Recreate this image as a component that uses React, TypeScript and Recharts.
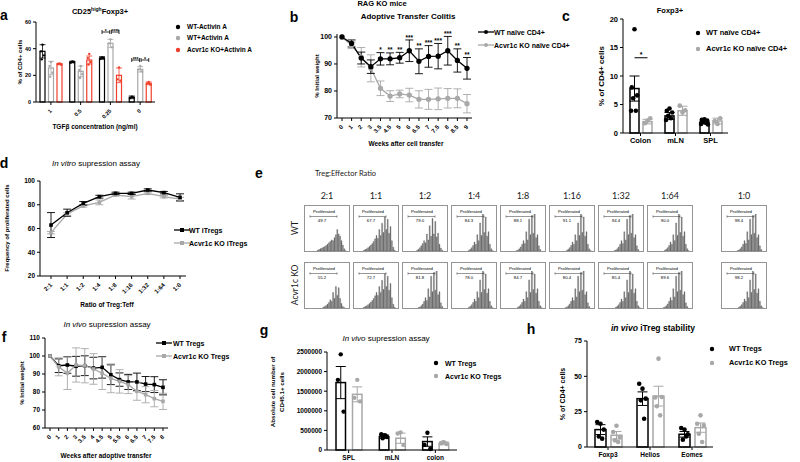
import React from "react";
import { BarChart, Bar, LineChart, Line, XAxis, YAxis, ErrorBar, LabelList } from "recharts";

const FONT = '"Liberation Sans", Arial, sans-serif';
const EFONT = 'Lato, "Open Sans", sans-serif';
const GRAY = "#a8a8a8";
const RED = "#f0402c";

// ---- a: CD25highFoxp3+
const aCats = ["1", "0.5", "0.25", "0"];
const aWtMinus = [38, 30, 33, 3.5];
const aWtMinusErr = [5, 0.6, 1, 1];
const aWtMinusDots = [[43, 38, 35, 32], [30.5, 29.5, 30], [33.5, 32.5, 33], [4, 3, 3.5]];
const aWtPlus = [25.5, 23, 44, 24.5];
const aWtPlusErr = [5, 4, 3, 2];
const aWtPlusDots = [[30, 27, 22, 19], [27, 24, 21, 18], [47, 44, 41], [27, 24.5, 23]];
const aKo = [28.5, 31.5, 20, 14];
const aKoErr = [0.5, 3, 5.5, 1];
const aKoDots = [[29, 28.5, 28], [36, 33, 30, 28], [26, 17, 16], [15, 14, 13]];
const aSig = [
  { cat: "0.25", y: 52.5, left: "*", right: "****" },
  { cat: "0", y: 31.5, left: "***", right: "*" },
];

// ---- b: adoptive transfer colitis
const bWeeks = ["0", "1", "2", "3", "3.5", "4.5", "5", "6", "6.5", "7", "7.5", "8", "8.5", "9"];
const bWt = [100, 97.6, 92.2, 89, 91.9, 91.9, 92.3, 94.9, 91, 92.8, 92.9, 94.9, 91.3, 88.4];
const bWtErr = [0, 1.3, 2.2, 2.5, 2.3, 2.2, 2, 4, 4.6, 4, 4.7, 5.3, 4.3, 4];
const bKo = [100, 96.9, 92.5, 88.4, 81, 78.1, 78.9, 78.5, 76.9, 76.9, 77.1, 77.3, 77.3, 75.3];
const bKoErr = [0, 1.2, 3.6, 5, 2.7, 2, 1.4, 2.5, 3.2, 3.7, 4, 3.6, 3.5, 3.4];
const bStars = ["", "", "", "", "*", "**", "**", "***", "**", "***", "***", "***", "**", "**"];

// ---- c: Foxp3+
const cCats = ["Colon", "mLN", "SPL"];
const cWt = [7.8, 3.0, 1.8];
const cWtErr = [2.2, 0.6, 0.2];
const cWtDots = [[18.2, 8.0, 6.6, 6.1, 3.9, 3.9], [4.3, 3.9, 3.6, 3.0, 2.6, 2.3], [2.4, 2.3, 2.2, 2.0, 1.8, 1.6, 1.5]];
const cKo = [2.0, 3.9, 2.1];
const cKoErr = [0.4, 0.8, 0.5];
const cKoDots = [[2.2, 1.7, 2.6], [3.6, 4.8, 4.0], [1.6, 2.1, 2.6]];

// ---- d: in vitro suppression
const dRatios = ["2:1", "1:1", "1:2", "1:4", "1:8", "1:16", "1:32", "1:64", "1:0"];
const dWt = [62.9, 73.3, 81.2, 86.8, 89.6, 89.6, 92.4, 90.2, 86.2];
const dWtErr = [10.5, 3, 1.5, 1.2, 1, 1, 1, 1, 3];
const dKo = [56.5, 72.2, 79, 82, 88.2, 86.8, 89.6, 86.8, 84.8];
const dKoErr = [1, 1, 1, 2, 1, 2, 1, 1, 1.5];

// ---- e: histograms
const eRatios = ["2:1", "1:1", "1:2", "1:4", "1:8", "1:16", "1:32", "1:64", "1:0"];
const eWtPct = ["49.7", "67.7", "79.0", "84.3", "88.1", "91.1", "94.4", "90.0", "98.4"];
const eKoPct = ["55.2", "72.7", "81.8", "78.0", "84.7", "80.4", "85.4", "89.6", "98.2"];
const hLow = [0,0,0,0,0,0,0,0,2,4,6,8,10,12,15,18,22,26,30,28,36,44,58,46,40,28,16,6,1,0];
const hKoLow = [0,0,0,0,0,0,0,0,0,0,0,0,2,4,7,10,15,22,18,42,26,58,34,55,26,12,4,1,0,0];
const hBroad = [0,0,0,0,0,0,2,4,6,9,12,16,20,26,33,42,34,58,42,75,50,92,58,86,48,66,28,10,2,0];
const hMid = [0,0,0,0,0,0,0,0,0,2,5,9,14,20,28,22,46,30,68,40,88,46,80,38,48,18,8,2,0,0];
const hNarrow = [0,0,0,0,0,0,0,0,0,0,0,2,5,9,15,24,18,44,28,76,42,100,50,92,40,52,18,6,1,0];
const hNarrowB = [0,0,0,0,0,0,0,0,0,0,1,3,6,11,18,28,20,52,30,86,44,96,48,100,36,44,14,4,0,0];
const eWtShape = [hLow, hBroad, hMid, hNarrow, hNarrowB, hNarrow, hNarrowB, hNarrow, hNarrowB];
const eKoShape = [hKoLow, hBroad, hNarrowB, hNarrow, hNarrow, hNarrowB, hNarrow, hNarrowB, hNarrow];

// ---- f: in vivo suppression weight
const fWeeks = ["0", "1", "2", "3", "3.5", "4", "4.5", "5", "5.5", "6", "6.5", "7", "7.5", "8"];
const fWt = [100, 94.6, 95, 94.3, 94.6, 93.3, 93.7, 89.6, 86.9, 85.6, 85.6, 84.4, 84.1, 82.6];
const fWtErr = [0, 3.8, 4.6, 5.5, 5.5, 6, 6, 5.5, 3.7, 4.2, 4.9, 4.2, 4.4, 4.2];
const fKo = [100, 94, 90.4, 95, 94.6, 92.8, 90.4, 87.6, 85.9, 84.1, 80.4, 78.5, 76.3, 74.8];
const fKoErr = [0, 5, 9, 9.5, 9.5, 8.5, 9, 8, 6.5, 5, 5, 4.5, 4.5, 4.5];

// ---- g: CD45.1+ cells
const gCats = ["SPL", "mLN", "colon"];
const gWt = [1720000, 340000, 215000];
const gWtErr = [410000, 40000, 120000];
const gWtDots = [[2440000, 1790000, 980000], [380000, 400000, 330000, 300000, 370000], [440000, 130000, 25000]];
const gKo = [1420000, 300000, 170000];
const gKoErr = [190000, 130000, 35000];
const gKoDots = [[1790000, 1330000, 1240000], [450000, 420000, 130000], [200000, 170000, 150000, 195000]];

// ---- h: iTreg stability
const hCats = ["Foxp3", "Helios", "Eomes"];
const hWt = [12.3, 34.2, 9];
const hWtErr = [3.5, 4.8, 2];
const hWtDots = [[16.5, 17.7, 12.3, 7.5, 5.9], [41.3, 44.8, 34.2, 33, 20], [12.3, 13.4, 9, 5.2, 7.5]];
const hKo = [8.3, 36, 13.7];
const hKoErr = [2.7, 7, 3.3];
const hKoDots = [[15, 10.6, 7, 4.7, 3.5], [62.5, 35, 35.4, 28.8, 22.4], [22.4, 16.5, 15.3, 9.4, 3.5]];

const AX = { stroke: "#000", strokeWidth: 1 };
const tk = (fs: number) => ({ fontSize: fs, fontWeight: 700, fill: "#000", fontFamily: FONT });
const JIT = [0, -0.3, 0.3, -0.15, 0.15, -0.38, 0.38, 0.05];

function T({ x, y, fs, children, bold = true, anchor = "middle", rot = 0, italic = false, family = FONT, color = "#000" }: any) {
  const tx = anchor === "middle" ? "-50%" : anchor === "end" ? "-100%" : "0";
  return (
    <div
      style={{
        position: "absolute", left: x, top: y, transform: `translate(${tx}, -50%) rotate(${rot}deg)`,
        fontSize: fs, fontWeight: bold ? 700 : 400, fontStyle: italic ? "italic" : "normal",
        fontFamily: family, color, whiteSpace: "nowrap", lineHeight: 1,
      }}
    >
      {children}
    </div>
  );
}

function Leg({ x, y, tx, color, label, kind, fs = 7 }: any) {
  return (
    <>
      <svg style={{ position: "absolute", left: x - 8, top: y - 4, overflow: "visible" }} width={16} height={8}>
        {kind !== "dot" && <line x1={0} x2={16} y1={4} y2={4} stroke={color} strokeWidth={1.3} />}
        {kind === "square" ? (
          <rect x={6} y={2} width={4} height={4} fill={color} />
        ) : (
          <circle cx={8} cy={4} r={kind === "dot" ? 2.2 : 2} fill={color} />
        )}
      </svg>
      <T x={tx} y={y} fs={fs} anchor="start">{label}</T>
    </>
  );
}

const RotTick = (p: any) => (
  <g transform={`translate(${p.x},${p.y + 3})`}>
    <text x={0} y={0} dy={p.fs * 0.35} textAnchor="end" transform="rotate(-45)" fontSize={p.fs} fontWeight={700} fontFamily={FONT} fill="#000">
      {p.payload.value}
    </text>
  </g>
);

function hollow(color: string, valKey: string, dotsKey: string, r: number, sw: number, extra?: (p: any, px: number, base: number) => React.ReactNode) {
  return (p: any) => {
    const { x, y, width, height, payload } = p;
    const val = payload[valKey];
    const base = y + height;
    const px = val ? height / val : 0;
    const dots: number[] = payload[dotsKey] || [];
    return (
      <g>
        <rect x={x} y={y} width={width} height={height} fill="#fff" stroke={color} strokeWidth={sw} />
        {dots.map((d, i) => (
          <circle key={i} cx={x + width / 2 + JIT[i % JIT.length] * width} cy={base - d * px} r={r} fill={color} />
        ))}
        {extra ? extra(p, px, base) : null}
      </g>
    );
  };
}

const sq = (color: string, s = 3.6) => (p: any) =>
  p.cx == null ? <g key={p.index} /> : <rect key={p.index} x={p.cx - s / 2} y={p.cy - s / 2} width={s} height={s} fill={color} />;

const A_BAR = 5;
const A_GAP = 3.5;
const aBracket = (p: any, px: number, base: number) => {
  const s = aSig.find((v) => v.cat === p.payload.cat);
  if (!s) return null;
  const cx = p.x + p.width / 2;
  const step = p.width + A_GAP;
  const yy = base - s.y * px;
  const segs: [number, number, string][] = [[cx - step, cx - 0.8, s.left], [cx + 0.8, cx + step, s.right]];
  return (
    <g>
      {segs.map(([x1, x2, t], i) => (
        <g key={i} stroke="#000" strokeWidth={0.8}>
          <line x1={x1} x2={x2} y1={yy} y2={yy} />
          <line x1={x1} x2={x1} y1={yy - 2} y2={yy + 2} />
          <line x1={x2} x2={x2} y1={yy - 2} y2={yy + 2} />
          <text x={(x1 + x2) / 2} y={yy + 0.5} textAnchor="middle" fontSize={5} fontWeight={700} fontFamily={FONT} stroke="none" fill="#000">{t}</text>
        </g>
      ))}
    </g>
  );
};

const C_GAP = 4;
const cBracket = (p: any, px: number, base: number) => {
  if (p.payload.cat !== "Colon") return null;
  const cx = p.x + p.width / 2;
  const x1 = cx - (p.width + C_GAP);
  const yy = base - 13.2 * px;
  return (
    <g>
      <line x1={x1} x2={cx} y1={yy} y2={yy} stroke="#000" strokeWidth={1} />
      <text x={(x1 + cx) / 2} y={yy - 1} textAnchor="middle" fontSize={7} fontWeight={700} fontFamily={FONT}>*</text>
    </g>
  );
};

function Hist({ data }: { data: number[] }) {
  const rows = data.map((v, i) => ({ i, v }));
  return (
    <BarChart width={42} height={37} data={rows} margin={{ top: 0, right: 0, bottom: 0, left: 0 }} barCategoryGap={0} barGap={0}>
      <XAxis dataKey="i" hide />
      <YAxis hide domain={[0, 100]} />
      <Bar dataKey="v" fill="#7f7f7f" stroke="#3a3a3a" strokeWidth={0.25} isAnimationActive={false} />
    </BarChart>
  );
}

function FlowBox({ x, y, pct, shape }: any) {
  return (
    <div style={{ position: "absolute", left: x, top: y, width: 44, height: 45, border: "1px solid #949494", background: "#fff" }}>
      <div style={{ position: "absolute", left: 1, bottom: 0 }}>
        <Hist data={shape} />
      </div>
      <svg style={{ position: "absolute", left: 0, top: 0 }} width={44} height={20}>
        <text x={19} y={7} textAnchor="middle" fontSize={4.3} fontFamily={FONT}>Proliferated</text>
        <g stroke="#333" strokeWidth={0.5}>
          <line x1={5} x2={32} y1={10.5} y2={10.5} />
          <line x1={5} x2={5} y1={9.3} y2={11.7} />
          <line x1={32} x2={32} y1={9.3} y2={11.7} />
        </g>
        <text x={17} y={15.5} textAnchor="middle" fontSize={4.3} fontFamily={FONT}>{pct}</text>
      </svg>
    </div>
  );
}

export default function App() {
  const aData = aCats.map((cat, i) => ({
    cat, wtm: aWtMinus[i], wtmErr: aWtMinusErr[i], wtmDots: aWtMinusDots[i],
    wtp: aWtPlus[i], wtpErr: aWtPlusErr[i], wtpDots: aWtPlusDots[i],
    ko: aKo[i], koErr: aKoErr[i], koDots: aKoDots[i],
  }));
  const bData = bWeeks.map((w, i) => ({
    w, wt: bWt[i], wtErr: bWtErr[i], ko: bKo[i], koErr: bKoErr[i],
    star: bStars[i], starY: bStars[i] ? bWt[i] + bWtErr[i] + 0.9 : null,
  }));
  const cData = cCats.map((cat, i) => ({ cat, wt: cWt[i], wtErr: cWtErr[i], wtDots: cWtDots[i], ko: cKo[i], koErr: cKoErr[i], koDots: cKoDots[i] }));
  const dData = dRatios.map((r, i) => ({ r, wt: dWt[i], wtErr: dWtErr[i], ko: dKo[i], koErr: dKoErr[i] }));
  const fData = fWeeks.map((w, i) => ({ w, wt: fWt[i], wtErr: fWtErr[i], ko: fKo[i], koErr: fKoErr[i] }));
  const gData = gCats.map((cat, i) => ({ cat, wt: gWt[i], wtErr: gWtErr[i], wtDots: gWtDots[i], ko: gKo[i], koErr: gKoErr[i], koDots: gKoDots[i] }));
  const hData = hCats.map((cat, i) => ({ cat, wt: hWt[i], wtErr: hWtErr[i], wtDots: hWtDots[i], ko: hKo[i], koErr: hKoErr[i], koDots: hKoDots[i] }));

  const eBoxX = (i: number) => (i < 8 ? 304 + 49 * i : 721);

  return (
    <div style={{ position: "absolute", left: 0, top: 0, width: 800, height: 462, background: "#fff", overflow: "hidden", fontFamily: FONT }}>
      {/* ---------- a ---------- */}
      <div style={{ position: "absolute", left: 0, top: 0 }}>
        <BarChart width={160} height={150} data={aData} margin={{ top: 22, right: 5, left: 0, bottom: 0 }} barSize={A_BAR} barGap={A_GAP}>
          <XAxis dataKey="cat" height={48} interval={0} tick={(p: any) => <RotTick {...p} fs={5.5} />} tickSize={3} axisLine={AX} tickLine={AX} />
          <YAxis width={36} domain={[0, 60]} ticks={[0, 20, 40, 60]} tick={tk(5.5)} tickSize={3} axisLine={AX} tickLine={AX} />
          <Bar dataKey="wtm" shape={hollow("#000", "wtm", "wtmDots", 1.2, 1.2)} isAnimationActive={false}>
            <ErrorBar dataKey="wtmErr" width={3} stroke="#000" strokeWidth={0.8} direction="y" />
          </Bar>
          <Bar dataKey="wtp" shape={hollow(GRAY, "wtp", "wtpDots", 1.2, 1.2, aBracket)} isAnimationActive={false}>
            <ErrorBar dataKey="wtpErr" width={3} stroke={GRAY} strokeWidth={0.8} direction="y" />
          </Bar>
          <Bar dataKey="ko" shape={hollow(RED, "ko", "koDots", 1.2, 1.2)} isAnimationActive={false}>
            <ErrorBar dataKey="koErr" width={3} stroke={RED} strokeWidth={0.8} direction="y" />
          </Bar>
        </BarChart>
      </div>
      <T x={4} y={15} fs={14}>a</T>
      <T x={100} y={11} fs={7.5}>CD25<span style={{ fontSize: 5, verticalAlign: "super" }}>high</span>Foxp3+</T>
      <T x={20} y={62} fs={6} rot={-90}>% of CD4+ cells</T>
      <T x={95} y={127} fs={6.5}>TGFβ concentration (ng/ml)</T>
      <Leg x={178} y={27} tx={187} color="#000" kind="dot" fs={6.5} label="WT-Activin A" />
      <Leg x={178} y={38} tx={187} color={GRAY} kind="dot" fs={6.5} label="WT+Activin A" />
      <Leg x={178} y={50} tx={187} color={RED} kind="dot" fs={6.5} label="Acvr1c KO+Activin A" />

      {/* ---------- b ---------- */}
      <div style={{ position: "absolute", left: 290, top: 0 }}>
        <LineChart width={190} height={160} data={bData} margin={{ top: 34, right: 8, left: 0, bottom: 0 }}>
          <XAxis dataKey="w" height={42} interval={0} padding={{ left: 5, right: 5 }} tick={(p: any) => <RotTick {...p} fs={6} />} tickSize={3} axisLine={AX} tickLine={AX} />
          <YAxis width={47} domain={[70, 100]} ticks={[70, 80, 90, 100]} tick={tk(7)} tickSize={3} axisLine={AX} tickLine={AX} />
          <Line dataKey="ko" stroke={GRAY} strokeWidth={1.3} dot={{ r: 2, fill: GRAY, stroke: GRAY }} activeDot={false} isAnimationActive={false}>
            <ErrorBar dataKey="koErr" width={4} stroke={GRAY} strokeWidth={0.9} direction="y" />
          </Line>
          <Line dataKey="wt" stroke="#000" strokeWidth={1.3} dot={{ r: 2, fill: "#000", stroke: "#000" }} activeDot={false} isAnimationActive={false}>
            <ErrorBar dataKey="wtErr" width={4} stroke="#000" strokeWidth={0.9} direction="y" />
          </Line>
          <Line dataKey="starY" stroke="none" dot={false} activeDot={false} isAnimationActive={false}>
            <LabelList
              dataKey="star"
              content={(p: any) =>
                p.value ? (
                  <text x={p.x} y={p.y + 2} textAnchor="middle" fontSize={6.5} fontWeight={700} fontFamily={FONT}>{p.value}</text>
                ) : null
              }
            />
          </Line>
        </LineChart>
      </div>
      <T x={294} y={17} fs={14}>b</T>
      <T x={382} y={4} fs={7.5}>RAG KO mice</T>
      <T x={408} y={17} fs={8}>Adoptive Transfer Colitis</T>
      <T x={317} y={76} fs={6} rot={-90}>% Initial weight</T>
      <T x={406} y={144} fs={6.5}>Weeks after cell transfer</T>
      <Leg x={486} y={32} tx={494} color="#000" kind="line" fs={7} label="WT naïve CD4+" />
      <Leg x={486} y={45} tx={494} color={GRAY} kind="line" fs={7} label="Acvr1c KO naïve CD4+" />

      {/* ---------- c ---------- */}
      <div style={{ position: "absolute", left: 560, top: 0 }}>
        <BarChart width={175} height={160} data={cData} margin={{ top: 19, right: 7, left: 0, bottom: 0 }} barSize={9} barGap={C_GAP}>
          <XAxis dataKey="cat" height={27} interval={0} tick={tk(7.5)} tickSize={3} axisLine={AX} tickLine={AX} />
          <YAxis width={63} domain={[0, 20]} ticks={[0, 5, 10, 15, 20]} tick={tk(7.5)} tickSize={3} axisLine={AX} tickLine={AX} />
          <Bar dataKey="wt" shape={hollow("#000", "wt", "wtDots", 2.3, 1.5)} isAnimationActive={false}>
            <ErrorBar dataKey="wtErr" width={5} stroke="#000" strokeWidth={1} direction="y" />
          </Bar>
          <Bar dataKey="ko" shape={hollow(GRAY, "ko", "koDots", 2.3, 1.5, cBracket)} isAnimationActive={false}>
            <ErrorBar dataKey="koErr" width={5} stroke={GRAY} strokeWidth={1} direction="y" />
          </Bar>
        </BarChart>
      </div>
      <T x={566} y={16} fs={14}>c</T>
      <T x={670} y={11} fs={7.5}>Foxp3+</T>
      <T x={602} y={76} fs={8} rot={-90}>% of CD4+ cells</T>
      <Leg x={698} y={33} tx={706} color="#000" kind="dot" fs={7.5} label="WT naïve CD4+" />
      <Leg x={698} y={49} tx={706} color={GRAY} kind="dot" fs={7.5} label="Acvr1c KO naïve CD4+" />

      {/* ---------- d ---------- */}
      <div style={{ position: "absolute", left: 0, top: 150 }}>
        <LineChart width={190} height={150} data={dData} margin={{ top: 31, right: 4, left: 0, bottom: 0 }}>
          <XAxis dataKey="r" height={24} interval={0} padding={{ left: 11, right: 6 }} tick={(p: any) => <RotTick {...p} fs={6} />} tickSize={3} axisLine={AX} tickLine={AX} />
          <YAxis width={40} domain={[20, 100]} ticks={[20, 40, 60, 80, 100]} tick={tk(6.5)} tickSize={3} axisLine={AX} tickLine={AX} />
          <Line dataKey="ko" stroke={GRAY} strokeWidth={1.3} dot={sq(GRAY)} activeDot={false} isAnimationActive={false}>
            <ErrorBar dataKey="koErr" width={4} stroke={GRAY} strokeWidth={0.9} direction="y" />
          </Line>
          <Line dataKey="wt" stroke="#000" strokeWidth={1.3} dot={sq("#000")} activeDot={false} isAnimationActive={false}>
            <ErrorBar dataKey="wtErr" width={4} stroke="#000" strokeWidth={0.9} direction="y" />
          </Line>
        </LineChart>
      </div>
      <T x={4} y={163} fs={14}>d</T>
      <T x={96} y={164} fs={8} bold={false}><i>In vitro</i> supression assay</T>
      <T x={7} y={228} fs={6} rot={-90}>Frequency of proliferated cells</T>
      <T x={107} y={305} fs={6.5}>Ratio of Treg:Teff</T>
      <Leg x={182} y={230} tx={189} color="#000" kind="square" fs={7} label="WT iTregs" />
      <Leg x={182} y={243} tx={189} color={GRAY} kind="square" fs={7} label="Acvr1c KO iTregs" />

      {/* ---------- e ---------- */}
      <T x={259} y={173} fs={14}>e</T>
      <T x={315} y={174} fs={7.5} bold={false} anchor="start" family={EFONT} color="#222">Treg:Effector Ratio</T>
      {eRatios.map((r, i) => (
        <T key={r} x={eBoxX(i) + 23} y={195} fs={9} bold={false} family={EFONT} color="#1a1a1a">{r}</T>
      ))}
      <T x={295} y={228} fs={8.5} bold={false} rot={-90} family={EFONT} color="#1a1a1a">WT</T>
      <T x={295} y={285} fs={8.5} bold={false} rot={-90} family={EFONT} color="#1a1a1a">Acvr1c KO</T>
      {eRatios.map((r, i) => (
        <FlowBox key={"w" + r} x={eBoxX(i)} y={205} pct={eWtPct[i]} shape={eWtShape[i]} />
      ))}
      {eRatios.map((r, i) => (
        <FlowBox key={"k" + r} x={eBoxX(i)} y={262} pct={eKoPct[i]} shape={eKoShape[i]} />
      ))}

      {/* ---------- f ---------- */}
      <div style={{ position: "absolute", left: 0, top: 310 }}>
        <LineChart width={175} height={150} data={fData} margin={{ top: 28, right: 7, left: 0, bottom: 0 }}>
          <XAxis dataKey="w" height={32} interval={0} padding={{ left: 5, right: 5 }} tick={(p: any) => <RotTick {...p} fs={6} />} tickSize={3} axisLine={AX} tickLine={AX} />
          <YAxis width={45} domain={[60, 110]} ticks={[60, 70, 80, 90, 100, 110]} tick={tk(6.5)} tickSize={3} axisLine={AX} tickLine={AX} />
          <Line dataKey="wt" stroke="#000" strokeWidth={1.3} dot={sq("#000")} activeDot={false} isAnimationActive={false}>
            <ErrorBar dataKey="wtErr" width={4} stroke="#000" strokeWidth={0.9} direction="y" />
          </Line>
          <Line dataKey="ko" stroke={GRAY} strokeWidth={1.3} dot={sq(GRAY)} activeDot={false} isAnimationActive={false}>
            <ErrorBar dataKey="koErr" width={4} stroke={GRAY} strokeWidth={0.9} direction="y" />
          </Line>
        </LineChart>
      </div>
      <T x={4} y={337} fs={14}>f</T>
      <T x={107} y={325} fs={8} bold={false}><i>In vivo</i> supression assay</T>
      <T x={22} y={383} fs={6} rot={-90}>% Initial weight</T>
      <T x={106} y={456} fs={6.5}>Weeks after adoptive transfer</T>
      <Leg x={164} y={343} tx={173} color="#000" kind="square" fs={7} label="WT Tregs" />
      <Leg x={164} y={356} tx={173} color={GRAY} kind="square" fs={7} label="Acvr1c KO Tregs" />

      {/* ---------- g ---------- */}
      <div style={{ position: "absolute", left: 270, top: 320 }}>
        <BarChart width={190} height={142} data={gData} margin={{ top: 32, right: 3, left: 0, bottom: 0 }} barSize={9.5} barGap={7}>
          <XAxis dataKey="cat" height={12} interval={0} tick={tk(6.5)} tickSize={3} axisLine={AX} tickLine={AX} />
          <YAxis width={57} domain={[0, 2500000]} ticks={[0, 500000, 1000000, 1500000, 2000000, 2500000]} tick={tk(6.5)} tickSize={3} axisLine={AX} tickLine={AX} />
          <Bar dataKey="wt" shape={hollow("#000", "wt", "wtDots", 2.2, 1.5)} isAnimationActive={false}>
            <ErrorBar dataKey="wtErr" width={5} stroke="#000" strokeWidth={1} direction="y" />
          </Bar>
          <Bar dataKey="ko" shape={hollow(GRAY, "ko", "koDots", 2.2, 1.5)} isAnimationActive={false}>
            <ErrorBar dataKey="koErr" width={5} stroke={GRAY} strokeWidth={1} direction="y" />
          </Bar>
        </BarChart>
      </div>
      <T x={264} y={330} fs={14}>g</T>
      <T x={386} y={339} fs={8} bold={false}><i>In vivo</i> supression assay</T>
      <T x={273} y={392} fs={6.2} rot={-90}>Absolute cell number of</T>
      <T x={282} y={392} fs={6.2} rot={-90}>CD45.1+ cells</T>
      <Leg x={436} y={363} tx={445} color="#000" kind="dot" fs={7} label="WT Tregs" />
      <Leg x={436} y={376} tx={445} color={GRAY} kind="dot" fs={7} label="Acvr1c KO Tregs" />

      {/* ---------- h ---------- */}
      <div style={{ position: "absolute", left: 530, top: 320 }}>
        <BarChart width={190} height={142} data={hData} margin={{ top: 21, right: 7, left: 0, bottom: 0 }} barSize={11} barGap={5}>
          <XAxis dataKey="cat" height={15} interval={0} tick={tk(6.5)} tickSize={3} axisLine={AX} tickLine={AX} />
          <YAxis width={57} domain={[0, 75]} ticks={[0, 25, 50, 75]} tick={tk(7)} tickSize={3} axisLine={AX} tickLine={AX} />
          <Bar dataKey="wt" shape={hollow("#000", "wt", "wtDots", 2.3, 1.5)} isAnimationActive={false}>
            <ErrorBar dataKey="wtErr" width={5} stroke="#000" strokeWidth={1} direction="y" />
          </Bar>
          <Bar dataKey="ko" shape={hollow(GRAY, "ko", "koDots", 2.3, 1.5)} isAnimationActive={false}>
            <ErrorBar dataKey="koErr" width={5} stroke={GRAY} strokeWidth={1} direction="y" />
          </Bar>
        </BarChart>
      </div>
      <T x={531} y={329} fs={14}>h</T>
      <T x={653} y={328} fs={8.5}><i>in vivo</i> iTreg stability</T>
      <T x={562} y={394} fs={7} rot={-90}>% of CD4+ cells</T>
      <Leg x={712} y={349} tx={729} color="#000" kind="dot" fs={7.3} label="WT Tregs" />
      <Leg x={712} y={363} tx={729} color={GRAY} kind="dot" fs={7.3} label="Acvr1c KO Tregs" />
    </div>
  );
}
